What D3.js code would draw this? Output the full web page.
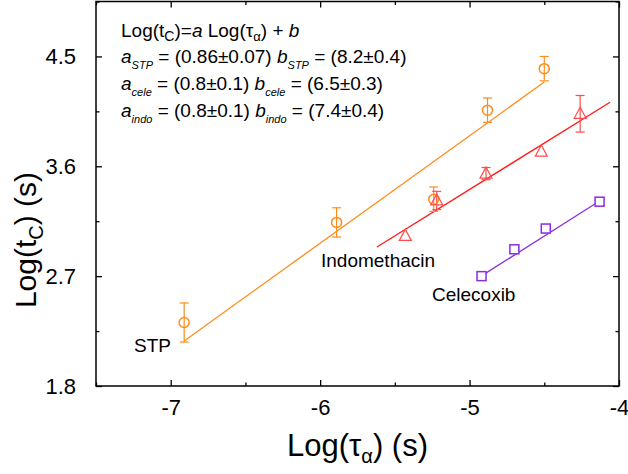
<!DOCTYPE html>
<html>
<head>
<meta charset="utf-8">
<script src="https://cdn.jsdelivr.net/npm/d3@7"></script>
<style>
  body { margin: 0; background: #fff; }
  text { font-family: "Liberation Sans", Arial, sans-serif; }
</style>
</head>
<body>
<div id="chart"></div>
<script>
// Values
const stpX = [-6.91, -5.89, -5.24, -4.88, -4.50];
const stpY = [2.32, 3.14, 3.33, 4.06, 4.40];
const stpErr = [0.16, 0.12, 0.10, 0.10, 0.10];

const indoX = [-5.43, -5.22, -4.89, -4.52, -4.26];
const indoY = [3.03, 3.32, 3.54, 3.72, 4.03];
const indoErr = [0, 0.075, 0.05, 0, 0.15];

const celeX = [-4.92, -4.70, -4.49, -4.13];
const celeY = [2.70, 2.92, 3.09, 3.31];

// fit lines: Log(tc) = a Log(tau) + b, drawn over [x0, x1]  (order: STP, indo, cele)
const fitA = [0.88, 0.76, 0.776];
const fitB = [8.25, 7.21, 6.52];
const fitX0 = [-6.91, -5.62, -4.92];
const fitX1 = [-4.50, -4.06, -4.13];

const xMajor = [-7, -6, -5, -4];
const xMinor = [-7.5, -6.5, -5.5, -4.5];
const yMajor = [1.8, 2.7, 3.6, 4.5];
const yMinor = [2.25, 3.15, 4.05, 4.95];

const seriesNames = ["STP", "Indomethacin", "Celecoxib"];
const aValues = ["(0.86±0.07)", "(0.8±0.1)", "(0.8±0.1)"];
const bValues = ["(8.2±0.4)", "(6.5±0.3)", "(7.4±0.4)"];
const subNames = ["STP", "cele", "indo"];

// Setup
const svgWidth = 628;
const svgHeight = 474;
const plotLeft = 96, plotRight = 619, plotTop = 1.5, plotBottom = 386;

const orange = "#ff8c1a";
const red = "#ff1a1a";
const triRed = "#ff4d4d";
const purple = "#8a2be2";

const svg = d3.select("#chart")
  .append("svg")
    .attr("width", svgWidth)
    .attr("height", svgHeight);

const x = d3.scaleLinear().domain([-7.5, -4]).range([plotLeft, plotRight]);
const y = d3.scaleLinear().domain([1.8, 4.95]).range([plotBottom, plotTop]);

// axes: ticks pointing inward on all four sides
function drawAxis(axis, tr, labels) {
  const g = svg.append("g").attr("transform", tr).call(axis);
  g.select(".domain").remove();
  g.selectAll("line").attr("stroke", "#000").attr("stroke-width", 1.3);
  if (!labels) g.selectAll("text").remove();
  return g;
}

const fmtX = d => String(d);
const fmtY = d3.format(".1f");

const gx = drawAxis(d3.axisBottom(x).tickValues(xMajor).tickSize(-6).tickPadding(13).tickFormat(fmtX),
  `translate(0,${plotBottom})`, true);
gx.selectAll("text").attr("font-size", 22).attr("fill", "#000");
drawAxis(d3.axisBottom(x).tickValues(xMinor).tickSize(-3.5), `translate(0,${plotBottom})`, false);
drawAxis(d3.axisTop(x).tickValues(xMajor).tickSize(-6), `translate(0,${plotTop})`, false);
drawAxis(d3.axisTop(x).tickValues(xMinor).tickSize(-3.5), `translate(0,${plotTop})`, false);

const gy = drawAxis(d3.axisLeft(y).tickValues(yMajor).tickSize(-6).tickPadding(20).tickFormat(fmtY),
  `translate(${plotLeft},0)`, true);
gy.selectAll("text").attr("font-size", 22).attr("fill", "#000");
drawAxis(d3.axisLeft(y).tickValues(yMinor).tickSize(-3.5), `translate(${plotLeft},0)`, false);
drawAxis(d3.axisRight(y).tickValues(yMajor).tickSize(-6), `translate(${plotRight},0)`, false);
drawAxis(d3.axisRight(y).tickValues(yMinor).tickSize(-3.5), `translate(${plotRight},0)`, false);

svg.append("rect")
  .attr("x", plotLeft).attr("y", plotTop)
  .attr("width", plotRight - plotLeft).attr("height", plotBottom - plotTop)
  .attr("fill", "none").attr("stroke", "#000").attr("stroke-width", 1.5);

// fit lines
const lineColors = [orange, red, purple];
fitA.forEach((a, i) => {
  svg.append("line")
    .attr("x1", x(fitX0[i])).attr("y1", y(a * fitX0[i] + fitB[i]))
    .attr("x2", x(fitX1[i])).attr("y2", y(a * fitX1[i] + fitB[i]))
    .attr("stroke", lineColors[i]).attr("stroke-width", 1.3);
});

// error bars
function errorBars(xs, ys, es, color) {
  const pts = xs.map((d, i) => ({x: d, y: ys[i], e: es[i]})).filter(d => d.e > 0);
  const g = svg.append("g").attr("stroke", color).attr("stroke-width", 1.2);
  pts.forEach(d => {
    g.append("line").attr("x1", x(d.x)).attr("x2", x(d.x))
      .attr("y1", y(d.y - d.e)).attr("y2", y(d.y + d.e));
    [d.y - d.e, d.y + d.e].forEach(v => {
      g.append("line").attr("x1", x(d.x) - 4.5).attr("x2", x(d.x) + 4.5)
        .attr("y1", y(v)).attr("y2", y(v));
    });
  });
}
errorBars(stpX, stpY, stpErr, orange);
errorBars(indoX, indoY, indoErr, triRed);

// markers
svg.append("g").selectAll("circle")
  .data(stpX)
  .enter().append("circle")
    .attr("cx", d => x(d))
    .attr("cy", (d, i) => y(stpY[i]))
    .attr("r", 5)
    .attr("fill", "none")
    .attr("stroke", orange)
    .attr("stroke-width", 1.5);

svg.append("g").selectAll("path")
  .data(indoX)
  .enter().append("path")
    .attr("transform", (d, i) => `translate(${x(d)},${y(indoY[i])})`)
    .attr("d", "M0,-6.5L6,4.5L-6,4.5Z")
    .attr("fill", "none")
    .attr("stroke", triRed)
    .attr("stroke-width", 1.2);

svg.append("g").selectAll("rect")
  .data(celeX)
  .enter().append("rect")
    .attr("x", d => x(d) - 4.5)
    .attr("y", (d, i) => y(celeY[i]) - 4.5)
    .attr("width", 9).attr("height", 9)
    .attr("fill", "#fff")
    .attr("stroke", purple)
    .attr("stroke-width", 1.5);

// series labels
const labelPos = [[134, 352], [321, 267], [432, 301]];
seriesNames.forEach((n, i) => {
  svg.append("text")
    .attr("x", labelPos[i][0]).attr("y", labelPos[i][1])
    .attr("font-size", 19)
    .text(n);
});

// equation block
function richText(xp, yp, size, parts) {
  const t = svg.append("text").attr("x", xp).attr("y", yp).attr("font-size", size);
  let shift = 0;
  parts.forEach(p => {
    const ts = t.append("tspan").text(p.t);
    const s = p.sub ? p.sub : 0;
    ts.attr("dy", s - shift);
    shift = s;
    if (p.sub) ts.attr("font-size", p.size || size * 0.6);
    if (p.it) ts.attr("font-style", "italic");
  });
  return t;
}

richText(121, 37, 19, [
  {t: "Log(t"}, {t: "C", sub: 4, size: 14}, {t: ")="}, {t: "a", it: true},
  {t: " Log(τ"}, {t: "α", sub: 4, size: 13}, {t: ") + "}, {t: "b", it: true}
]);

const rowY = [63, 90, 117];
const rowOrder = [0, 1, 2];
rowOrder.forEach(i => {
  richText(121, rowY[i], 19, [
    {t: "a", it: true}, {t: subNames[i], sub: 6, size: 11, it: true},
    {t: " = " + aValues[i] + " "}, {t: "b", it: true},
    {t: subNames[i], sub: 6, size: 11, it: true}, {t: " = " + bValues[i]}
  ]);
});

// axis titles
richText(0, 0, 31, [{t: "Log(τ"}, {t: "α", sub: 7, size: 20}, {t: ") (s)"}])
  .attr("x", null).attr("y", null)
  .attr("transform", `translate(${(plotLeft + plotRight) / 2},456)`)
  .attr("text-anchor", "middle");

richText(0, 0, 30, [{t: "Log(t"}, {t: "C", sub: 7, size: 20}, {t: ") (s)"}])
  .attr("x", null).attr("y", null)
  .attr("transform", `translate(36,240) rotate(-90)`)
  .attr("text-anchor", "middle");
</script>
</body>
</html>
